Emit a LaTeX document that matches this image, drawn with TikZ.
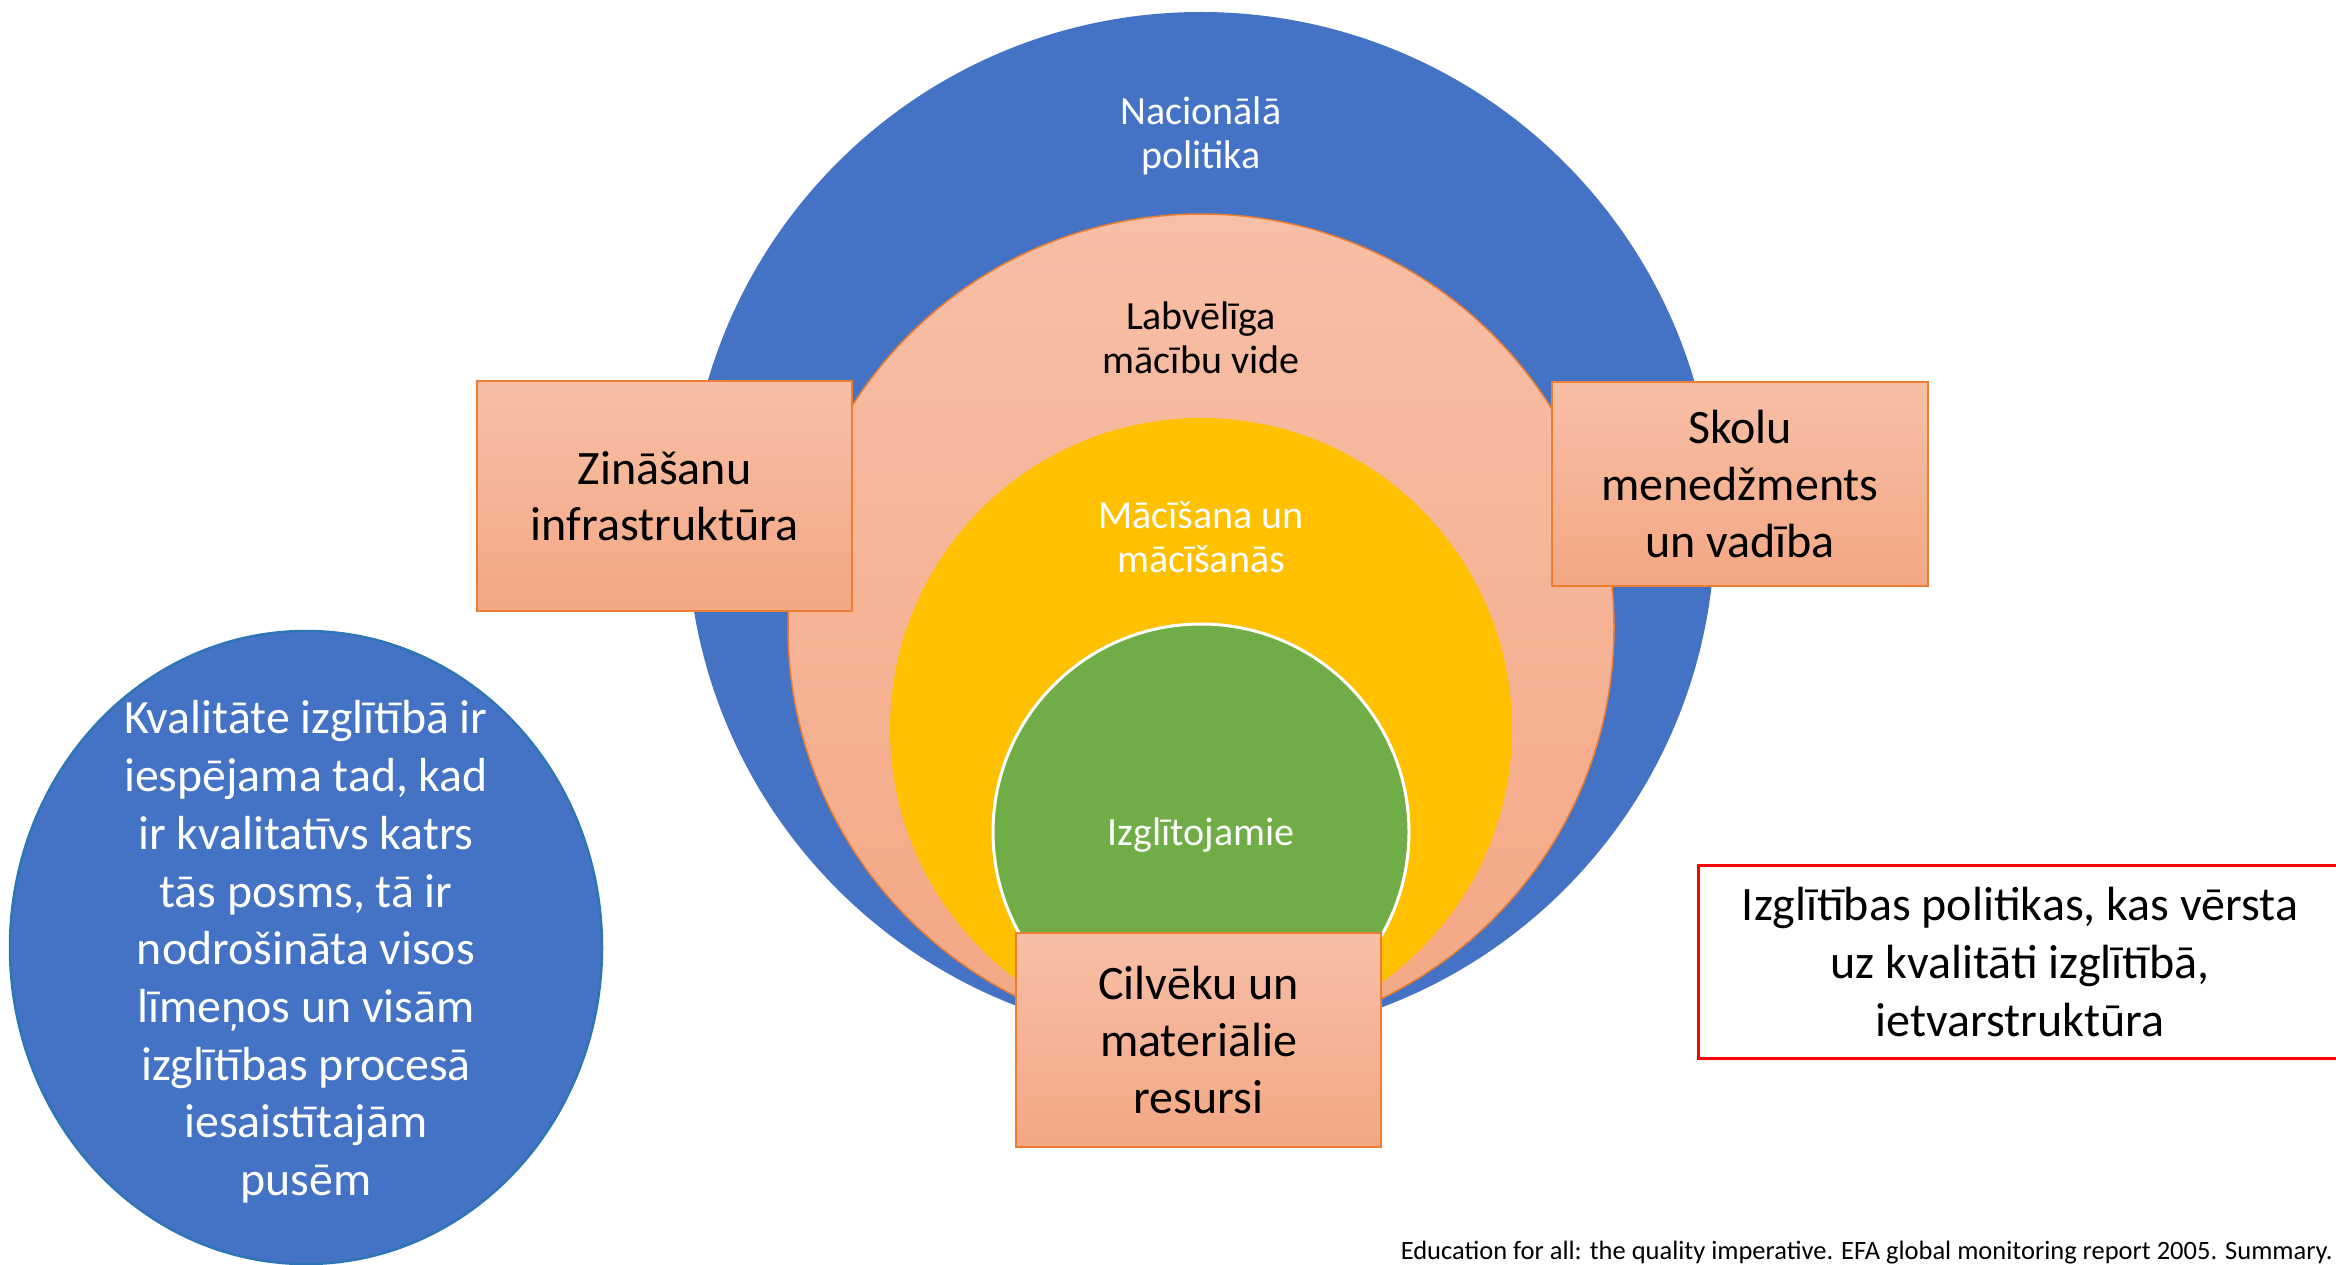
\documentclass[tikz,border=0pt]{standalone}
\usepackage{fontspec}
\setmainfont{Carlito}
\usetikzlibrary{shapes.geometric}

\definecolor{polblue}{HTML}{4472C4}
\definecolor{edgeblue}{HTML}{2E75B6}
\definecolor{edgeorange}{HTML}{ED7D31}
\definecolor{boxtop}{HTML}{F7BFA6}
\definecolor{boxbottom}{HTML}{F4A784}
\definecolor{gold}{HTML}{FFC000}
\definecolor{leaf}{HTML}{70AD47}

\begin{document}
\begin{tikzpicture}[x=1pt,y=-1pt,
  ring/.style={circle,inner sep=0pt},
  orangebox/.style={rectangle,draw=edgeorange,line width=2pt,top color=boxtop,bottom color=boxbottom,inner sep=0pt},
  ringtext/.style={align=center,font=\fontsize{40}{43.5}\selectfont},
  boxtext/.style={align=center,font=\fontsize{48}{56.6}\selectfont}]
\useasboundingbox (0,0) rectangle (2336,1265);
% Nested rings
\node[ring,fill=polblue,minimum size=1028pt] (nacionala) at (1201,526) {};
\node[ring,draw=edgeorange,line width=1.5pt,top color=boxtop,bottom color=boxbottom,minimum size=826pt] (vide) at (1201,627) {};
\node[ring,fill=gold,minimum size=622pt] (macisana) at (1201,729) {};
\node[ring,fill=leaf,draw=white,line width=3pt,minimum size=416pt] (izglitojamie) at (1201,832) {};
\node[ringtext,white] (nactext) at (1201,136) {Nacionālā\\politika};
\node[ringtext] (videtext) at (1201,338) {Labvēlīga\\mācību vide};
\node[ringtext,white] (mactext) at (1201,537) {Mācīšana un\\mācīšanās};
\node[ringtext,white] (izgtext) at (1201,835) {Izglītojamie};
% Boxes
\node[orangebox,minimum width=375pt,minimum height=230pt] (zinasanu) at (664.5,496) {};
\node[boxtext] at (zinasanu.center) {Zināšanu\\infrastruktūra};
\node[orangebox,minimum width=376pt,minimum height=204pt] (skolu) at (1740,484) {};
\node[boxtext] at (skolu.center) {Skolu\\menedžments\\un vadība};
\node[orangebox,minimum width=365pt,minimum height=214pt] (cilveku) at (1198.5,1040) {};
\node[boxtext] at (cilveku.center) {Cilvēku un\\materiālie\\resursi};
% Left ellipse
\node[ellipse,fill=polblue,draw=edgeblue,line width=2.5pt,minimum width=592pt,minimum height=633pt,inner sep=0pt] (kvalitate) at (306,947.5) {};
\node[white,align=center,font=\fontsize{47.8}{57.7}\selectfont] (kvaltext) at (306,952) {Kvalitāte izglītībā ir\\iespējama tad, kad\\ir kvalitatīvs katrs\\tās posms, tā ir\\nodrošināta visos\\līmeņos un visām\\izglītības procesā\\iesaistītajām\\pusēm};
% Framework box
\node[rectangle,draw=red,line width=3pt,minimum width=640pt,minimum height=193pt,inner sep=0pt] (ietvars) at (2018,961.5) {};
\node[align=center,font=\fontsize{48}{58}\selectfont] (ietvtext) at (2020,962) {Izglītības politikas, kas vērsta\\uz kvalitāti izglītībā,\\ietvarstruktūra};
% Source
\node[anchor=east,inner sep=0pt,font=\fontsize{26.5}{30}\selectfont] (avots) at (2333,1253) {Education for all: the quality imperative. EFA global monitoring report 2005. Summary.};
\end{tikzpicture}
\end{document}
